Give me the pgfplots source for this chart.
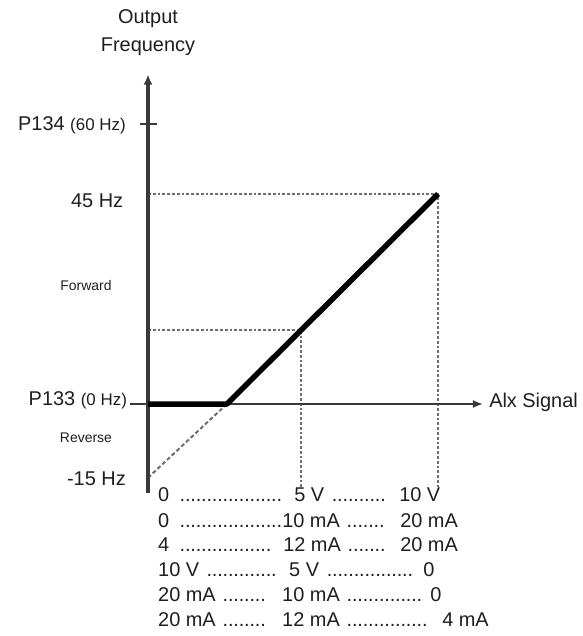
\documentclass[border=0pt]{standalone}
\usepackage{fontspec}
\setmainfont{Liberation Sans}
\usepackage{pgfplots}
\pgfplotsset{compat=1.18}
\usetikzlibrary{arrows.meta}
\definecolor{axisgray}{HTML}{3A3A3A}
\definecolor{dotgray}{HTML}{6E6E6E}
\definecolor{txt}{HTML}{1E1E1E}
\tikzset{
  lbl/.style={font=\fontsize{20}{24}\selectfont, inner sep=0pt, text=txt},
  sml/.style={font=\fontsize{14}{17}\selectfont, inner sep=0pt, text=txt},
}
\newcommand\dl{\leaders\hbox to 0.27em{\hss.\hss}\hfill}
\newcommand\seg[3]{\makebox[#1bp][l]{#2\hspace*{6bp}\dl\hspace*{#3bp}}}
\begin{document}
\begin{tikzpicture}
\begin{axis}[
  scale only axis, width=582bp, height=636bp,
  xmin=-5.1034, xmax=14.9655, ymin=-49.71, ymax=86.57,
  hide axis, clip=false,
]
\path (rel axis cs:0,0) rectangle (rel axis cs:1,1);
% dotted guide lines
\addplot[dotgray, line width=2bp, dash pattern=on 2.8bp off 2bp] coordinates {(0,45) (10,45) (10,-17.8)};
\addplot[dotgray, line width=2bp, dash pattern=on 2.8bp off 2bp] coordinates {(0,15.8) (5.28,15.8) (5.28,-17.8)};
% reverse (dashed) part
\addplot[dotgray, line width=2bp, dash pattern=on 4bp off 2.5bp] coordinates {(0,-15.8) (2.72,0)};
% axes
\addplot[axisgray, line width=1.8bp, -{Latex[length=10bp,width=8bp]}] coordinates {(-0.62,0) (11.55,0)};
\addplot[axisgray, line width=3.2bp, -{Latex[length=10bp,width=9bp]}] coordinates {(0,-19.1) (0,70.6)};
\addplot[axisgray, line width=2.2bp] coordinates {(-0.28,60) (0.31,60)};
% output frequency curve
\addplot[black, line width=5.5bp, line join=round] coordinates {(0,0) (2.72,0) (10,45)};
% labels
\node[lbl, anchor=center] at (axis cs:0,82.5) {Output};
\node[lbl, anchor=center] at (axis cs:0,76.5) {Frequency};
\node[lbl, anchor=east] at (axis cs:-0.76,59.8) {P134 {\fontsize{17}{20}\selectfont(60 Hz)}};
\node[lbl, anchor=east] at (axis cs:-0.85,43.6) {45 Hz};
\node[sml, anchor=center] at (axis cs:-2.14,25.3) {Forward};
\node[lbl, anchor=east] at (axis cs:-0.72,0.9) {P133 {\fontsize{17}{20}\selectfont(0 Hz)}};
\node[sml, anchor=center] at (axis cs:-2.14,-7.3) {Reverse};
\node[lbl, anchor=east] at (axis cs:-0.76,-16.1) {-15 Hz};
\node[lbl, anchor=west] at (axis cs:11.76,0.3) {Alx Signal};
% signal table
\node[lbl, anchor=west] at (axis cs:0.345,-19.5) {\seg{136}{0}{10}\seg{105}{5 V}{9}10 V};
\node[lbl, anchor=west] at (axis cs:0.345,-24.9) {\seg{124}{0}{0}\seg{118}{10 mA}{12}20 mA};
\node[lbl, anchor=west] at (axis cs:0.345,-30.2) {\seg{125}{4}{12}\seg{117}{12 mA}{10}20 mA};
\node[lbl, anchor=west] at (axis cs:0.345,-35.4) {\seg{131}{10 V}{10}\seg{134}{5 V}{10}0};
\node[lbl, anchor=west] at (axis cs:0.345,-40.9) {\seg{124}{20 mA}{12}\seg{148}{10 mA}{8}0};
\node[lbl, anchor=west] at (axis cs:0.345,-46.1) {\seg{124}{20 mA}{12}\seg{160}{12 mA}{12}4 mA};
\end{axis}
\end{tikzpicture}
\end{document}
